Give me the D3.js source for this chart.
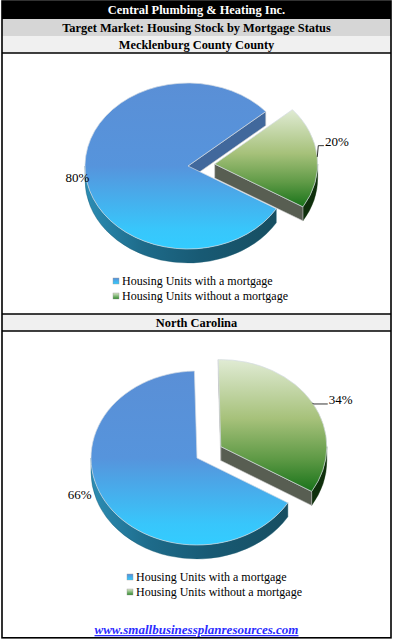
<!DOCTYPE html>
<html><head><meta charset="utf-8">
<script src="https://cdn.jsdelivr.net/npm/d3@7"></script>
<style>
body{margin:0;background:#fff;}
svg{display:block;}
text{font-family:"Liberation Serif","Times New Roman",serif;}
</style>
</head><body><svg id="c" width="395" height="641"></svg>
<script>
// ---------------- data ----------------
const titleLines = ["Central Plumbing & Heating Inc.", "Target Market: Housing Stock by Mortgage Status"];
const regions = ["Mecklenburg County County", "North Carolina"];
const categories = ["Housing Units with a mortgage", "Housing Units without a mortgage"];
const mecklenburgValues = [80, 20];
const northCarolinaValues = [66, 34];
const footerText = "www.smallbusinessplanresources.com";
const seriesByRegion = [mecklenburgValues, northCarolinaValues];

// ---------------- layout ----------------
const W = 395, H = 641;
const L = 2, R = 391, T = 1, B = 637.8;
const rows = { r1: [T, 19], r2: [19, 36], r3: [36, 53], chart1: [53, 314], nc: [314, 331], chart2: [331, B] };
const charts = [
  { cx: 188, cy: 166, rx: 103, ry: 83, depth: 14, legendX: 113, legendY: 281,
    labelNudge: [[13.5, 9], [-2, -10]] },
  { cx: 197, cy: 458, rx: 106, ry: 87, depth: 14, legendX: 127, legendY: 577,
    labelNudge: [[-6.5, -7], [9, 6]] }
];
const firstSliceAngle = 121 * Math.PI / 180;
const explodeByCategory = [0, 0.26];

const svg = d3.select("#c");
const defs = svg.append("defs");

function linGrad(id, stops, horizontal) {
  const g = defs.append("linearGradient").attr("id", id)
    .attr("x1", 0).attr("y1", 0).attr("x2", horizontal ? 1 : 0).attr("y2", horizontal ? 0 : 1);
  stops.forEach(s => g.append("stop").attr("offset", s[0]).attr("stop-color", s[1]));
}
linGrad("topBlue", [[0, "#5a8fd6"], [0.5, "#5694dc"], [0.88, "#38c6fb"], [1, "#33ccff"]]);
linGrad("topGreen", [[0, "#e0ebd4"], [0.45, "#a6c17a"], [0.75, "#5f9a46"], [1, "#19731a"]]);
linGrad("sideBlue", [[0, "#2c8db4"], [0.3, "#1e6b8a"], [0.6, "#185a74"], [1, "#174e61"]], true);
linGrad("legBlue", [[0, "#5a8fd6"], [1, "#33ccff"]]);
linGrad("legGreen", [[0, "#d8e6c8"], [1, "#2f8a2a"]]);

const topFill = ["url(#topBlue)", "url(#topGreen)"];
const sideFill = ["url(#sideBlue)", "#0f2f0c"];
const sideStroke = ["#1a5a72", "#0f2f0c"];
const cutFill = ["#41689c", "#585e52"];
const legendFill = ["url(#legBlue)", "url(#legGreen)"];

// ---------------- frame ----------------
svg.append("rect").attr("x", L).attr("y", rows.r1[0]).attr("width", R - L).attr("height", rows.r1[1] - rows.r1[0]).attr("fill", "#000");
svg.append("rect").attr("x", L).attr("y", rows.r2[0]).attr("width", R - L).attr("height", rows.r2[1] - rows.r2[0]).attr("fill", "#d6d6d6");
svg.append("rect").attr("x", L).attr("y", rows.r3[0]).attr("width", R - L).attr("height", rows.r3[1] - rows.r3[0]).attr("fill", "#f0f0f0");
svg.append("rect").attr("x", L).attr("y", rows.nc[0]).attr("width", R - L).attr("height", rows.nc[1] - rows.nc[0]).attr("fill", "#f0f0f0");

const cx0 = (L + R) / 2;
svg.append("text").attr("x", cx0).attr("y", 14).attr("text-anchor", "middle")
  .attr("font-weight", "bold").attr("font-size", 12.4).attr("fill", "#fff").text(titleLines[0]);
svg.append("text").attr("x", cx0).attr("y", 32).attr("text-anchor", "middle")
  .attr("font-weight", "bold").attr("font-size", 12.4).attr("fill", "#000").text(titleLines[1]);
svg.append("text").attr("x", cx0).attr("y", 49).attr("text-anchor", "middle")
  .attr("font-weight", "bold").attr("font-size", 12.4).attr("fill", "#000").text(regions[0]);
svg.append("text").attr("x", cx0).attr("y", 327).attr("text-anchor", "middle")
  .attr("font-weight", "bold").attr("font-size", 12.4).attr("fill", "#000").text(regions[1]);

// ---------------- pies ----------------
const pie = d3.pie().sort(null).value(d => d)
  .startAngle(firstSliceAngle).endAngle(firstSliceAngle + 2 * Math.PI);

charts.forEach((ch, ci) => {
  const values = seriesByRegion[ci];
  const arcs = pie(values);
  const g = svg.append("g");
  const slices = arcs.map((a, i) => {
    const t0 = a.startAngle - Math.PI / 2, t1 = a.endAngle - Math.PI / 2;
    const m = (t0 + t1) / 2;
    const e = explodeByCategory[i];
    const ox = ch.cx + Math.cos(m) * ch.rx * e, oy = ch.cy + Math.sin(m) * ch.ry * e;
    const P = (t, dz) => [ox + ch.rx * Math.cos(t), oy + ch.ry * Math.sin(t) + (dz || 0)];
    return { i, t0, t1, m, ox, oy, P, value: a.value };
  });
  const wallLayer = g.append("g"), topLayer = g.append("g"), labelLayer = g.append("g");
  slices.forEach(s => {
    const { P, t0, t1, ox, oy, i } = s;
    const d = ch.depth;
    // outer wall: visible where the rim faces the viewer (sin > 0)
    const shift = Math.floor(t0 / (2 * Math.PI)) * 2 * Math.PI;
    const a0 = t0 - shift, a1 = t1 - shift;
    [[0, Math.PI], [2 * Math.PI, 3 * Math.PI]].forEach(([lo, hi]) => {
      const s0 = Math.max(a0, lo), s1 = Math.min(a1, hi);
      if (s1 > s0) {
        const p0 = P(s0), p1 = P(s1), q1 = P(s1, d), q0 = P(s0, d);
        wallLayer.append("path")
          .attr("d", `M${p0}A${ch.rx},${ch.ry} 0 0 1 ${p1}L${q1}A${ch.rx},${ch.ry} 0 0 0 ${q0}Z`)
          .attr("fill", sideFill[i]).attr("stroke", sideStroke[i]).attr("stroke-width", 0.4);
      }
    });
    // cut walls
    const cut = t => {
      const p = P(t), q = P(t, d);
      wallLayer.append("path")
        .attr("d", `M${ox},${oy}L${p}L${q}L${ox},${oy + d}Z`)
        .attr("fill", cutFill[i]).attr("stroke", "#c9c9c9").attr("stroke-width", 0.6);
    };
    if (Math.cos(t0) < 0) cut(t0);
    if (Math.cos(t1) > 0) cut(t1);
    // top face
    const large = (t1 - t0) > Math.PI ? 1 : 0;
    topLayer.append("path")
      .attr("d", `M${ox},${oy}L${P(t0)}A${ch.rx},${ch.ry} 0 ${large} 1 ${P(t1)}Z`)
      .attr("fill", topFill[i]).attr("stroke", "#d4dbe2").attr("stroke-width", 0.7);
    // label: outside the rim at the slice's mid angle, plus a small nudge
    const lx = ox + Math.cos(s.m) * ch.rx * 1.21 + ch.labelNudge[i][0];
    const ly = oy + Math.sin(s.m) * ch.ry * 1.1 - 5 + ch.labelNudge[i][1];
    const txt = labelLayer.append("text").attr("x", lx).attr("y", ly + 4.5)
      .attr("text-anchor", "middle").attr("font-size", 13).attr("fill", "#000")
      .text(s.value + "%");
    if (explodeByCategory[i] > 0) {
      const w = txt.node().getComputedTextLength();
      const rim = P(s.m);
      const by = ly + 4.5;
      labelLayer.append("path")
        .attr("d", `M${rim}L${rim[0] + 1},${by}L${lx - w / 2 - 1},${by}`)
        .attr("fill", "none").attr("stroke", "#000").attr("stroke-width", 0.8);
    }
  });
  // legend
  categories.forEach((c, i) => {
    const y = ch.legendY + i * 15;
    g.append("rect").attr("x", ch.legendX).attr("y", y - 3).attr("width", 6).attr("height", 6)
      .attr("fill", legendFill[i]).attr("stroke", "#999").attr("stroke-width", 0.4);
    g.append("text").attr("x", ch.legendX + 9).attr("y", y + 4).attr("font-size", 12).attr("fill", "#000").text(c);
  });
});

// footer
svg.append("text").attr("x", cx0).attr("y", 634).attr("text-anchor", "middle")
  .attr("font-weight", "bold").attr("font-style", "italic").attr("font-size", 13)
  .attr("text-decoration", "underline").attr("fill", "#2b2bff").text(footerText);

// grid lines / border
const lines = [53, 314, 331];
lines.forEach(y => svg.append("line").attr("x1", L).attr("x2", R).attr("y1", y).attr("y2", y).attr("stroke", "#000").attr("stroke-width", 1.6));
svg.append("rect").attr("x", L).attr("y", T).attr("width", R - L).attr("height", B - T)
  .attr("fill", "none").attr("stroke", "#000").attr("stroke-width", 1.6);
</script>
</body></html>
